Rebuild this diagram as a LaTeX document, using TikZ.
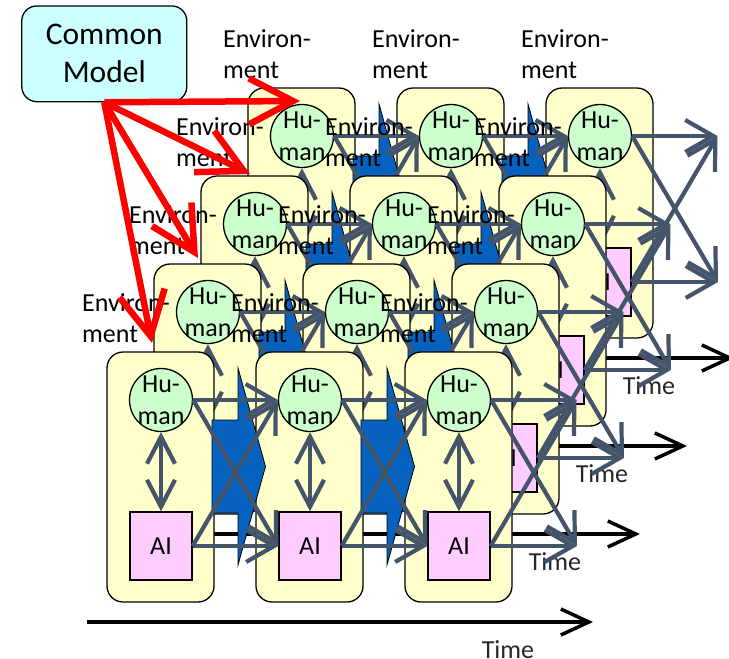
\documentclass[tikz,border=0pt]{standalone}
\usepackage{fontspec}
\setmainfont{Carlito}
\usetikzlibrary{arrows.meta}
\definecolor{slate}{RGB}{68,84,106}
\definecolor{chev}{RGB}{6,98,190}
\definecolor{panelfill}{RGB}{255,255,204}
\definecolor{humanfill}{RGB}{204,255,204}
\definecolor{aifill}{RGB}{255,204,255}
\definecolor{modelfill}{RGB}{204,255,255}
\tikzset{
  panel/.style={draw=black, line width=1.3pt, fill=panelfill, rounded corners=16pt, minimum width=107pt, minimum height=250pt, inner sep=0pt},
  human/.style={draw=black, line width=1.3pt, fill=humanfill, circle, minimum size=63pt, inner sep=0pt},
  aibox/.style={draw=black, line width=1.3pt, fill=aifill, minimum width=62pt, minimum height=68pt, inner sep=0pt},
  txt/.style={font=\fontsize{26}{32}\selectfont, inner sep=0pt, align=center},
  envlabel/.style={font=\fontsize{26}{31}\selectfont, inner sep=0pt, align=left, anchor=north west},
  timelabel/.style={font=\fontsize{26}{31}\selectfont, inner sep=0pt, anchor=base, text=black!85},
  flow/.style={draw=slate, line width=4.2pt, -{Straight Barb[length=28pt,width=32pt]}},
  link/.style={draw=slate, line width=4.2pt, {Straight Barb[length=27pt,width=28pt]}-{Straight Barb[length=27pt,width=28pt]}},
  chevron/.style={fill=chev, draw=black, line width=0.8pt},
  timeline/.style={draw=black, line width=3.5pt, -{Straight Barb[length=28pt,width=26pt]}},
  feed/.style={draw=red, line width=6.5pt, -{Straight Barb[length=44pt,width=46pt]}},
  model/.style={draw=black, line width=1.3pt, fill=modelfill, rounded corners=15pt, minimum width=165pt, minimum height=95.7pt, inner sep=0pt, align=center, font=\fontsize{31.5}{38}\selectfont}
}
\begin{document}
\begin{tikzpicture}[x=1pt,y=-1pt]
\useasboundingbox (0,0) rectangle (729,659);
\clip (0,0) rectangle (729,659);
\foreach \i in {3,2,1,0}{
  \begin{scope}[shift={(47*\i,-88*\i)}]
    \coordinate (TS\i) at (87,622);
    \coordinate (TE\i) at (593,622);
    \draw[timeline] (TS\i) -- (TE\i);
    \node[timelabel] (TL\i) at (508,658) {Time};
    \foreach \j in {0,1,2}{
      \node[panel] (P\i\j) at (160.5+149*\j,477) {};
      \node[human] (H\i\j) at (161+149*\j,400) {};
      \node[txt] (HL\i\j) at (H\i\j.center) {Hu-\\man};
      \node[aibox] (A\i\j) at (161+149*\j,546) {};
      \node[txt] (AL\i\j) at (A\i\j.center) {AI};
      \draw[link] (H\i\j.south) -- (A\i\j.north);
      \node[envlabel] (E\i\j) at (82+149*\j,293.5) {Environ-\\ment};
    }
    \foreach \j in {0,1}{
      \begin{scope}[shift={(149*\j,0)}]
        \filldraw[chevron] (212,420) -- (238,420) -- (238,368) -- (265.5,466.5)
          -- (238,565) -- (238,513) -- (212,513) -- cycle;
      \end{scope}
    }
    \coordinate (HT\i) at (576.5,400);
    \coordinate (AT\i) at (577,546);
    \foreach \j/\k in {0/1,1/2}{
      \draw[flow] (H\i\j.east) -- (H\i\k.west);
      \draw[flow] (H\i\j.east) -- (A\i\k.west);
      \draw[flow] (A\i\j.east) -- (H\i\k.west);
      \draw[flow] (A\i\j.east) -- (A\i\k.west);
    }
    \draw[flow] (H\i2.east) -- (HT\i);
    \draw[flow] (H\i2.east) -- (AT\i);
    \draw[flow] (A\i2.east) -- (HT\i);
    \draw[flow] (A\i2.east) -- (AT\i);
  \end{scope}
}
\node[model] (CM) at (104.3,53.8) {Common\\Model};
\coordinate (R3) at (300,101);
\coordinate (R2) at (250,174);
\coordinate (R1) at (198,258);
\coordinate (R0) at (152,343);
\foreach \i in {0,1,2,3}{
  \draw[feed] (CM.south) -- (R\i);
}
\end{tikzpicture}
\end{document}
